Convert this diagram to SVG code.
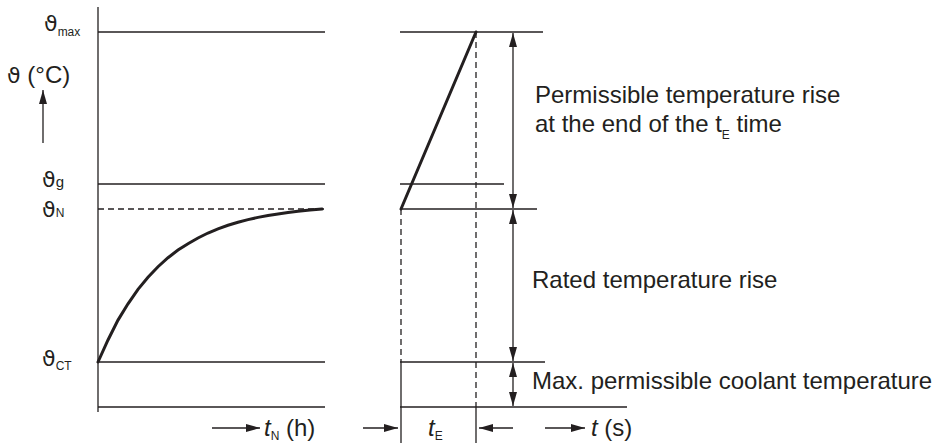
<svg xmlns="http://www.w3.org/2000/svg" width="933" height="443" viewBox="0 0 933 443">
<style>
.ln{stroke:#231f20;stroke-width:1.3;fill:none}
.ds{stroke:#231f20;stroke-width:1.3;fill:none;stroke-dasharray:6 4}
.th{stroke:#231f20;stroke-width:3;fill:none;stroke-linecap:round}
.ar{stroke:#231f20;stroke-width:1.3;fill:none;marker-end:url(#ah)}
.da{stroke:#231f20;stroke-width:1.3;fill:none;marker-start:url(#ahs);marker-end:url(#ah)}
text{font-family:"Liberation Sans","DejaVu Sans",sans-serif;fill:#231f20}
.lb{font-size:24px}
.sym{font-family:"DejaVu Sans","Liberation Sans",sans-serif;font-size:22px}
.sub{font-size:12px}
.it{font-style:italic}
</style>
<defs>
<marker id="ah" markerUnits="userSpaceOnUse" markerWidth="16" markerHeight="10" refX="14" refY="4" orient="auto">
<path d="M0,0 L14,4 L0,8 Z" fill="#231f20"/>
</marker>
<marker id="ahs" markerUnits="userSpaceOnUse" markerWidth="16" markerHeight="10" refX="0" refY="4" orient="auto">
<path d="M14,0 L0,4 L14,8 Z" fill="#231f20"/>
</marker>
</defs>

<g id="left-panel">
<line class="ln" x1="98" y1="7" x2="98" y2="412"/>
<line class="ln" x1="98" y1="32" x2="325" y2="32"/>
<line class="ln" x1="98" y1="184" x2="325" y2="184"/>
<line class="ds" x1="98" y1="209" x2="325" y2="209"/>
<line class="ln" x1="98" y1="362" x2="325" y2="362"/>
<line class="ln" x1="98" y1="407" x2="325" y2="407"/>
<polyline class="th" points="98,362 108,340 118,320.1 128,303.8 138,289.3 148,277.3 158,266.7 168,257.7 178,250.1 188,243.7 198,238 208,233 218,228.9 228,225.3 238,222.3 248,219.6 258,217.4 268,215.5 278,213.9 288,212.5 298,211.3 310,210.1 322,209.1"/>
</g>

<g id="right-panel">
<line class="ln" x1="400" y1="32" x2="543" y2="32"/>
<line class="ln" x1="400" y1="184" x2="504" y2="184"/>
<line class="ln" x1="400" y1="209" x2="537" y2="209"/>
<line class="ln" x1="400" y1="362" x2="545" y2="362"/>
<line class="ln" x1="400" y1="407" x2="627" y2="407"/>
<line class="ds" x1="476" y1="32" x2="476" y2="407"/>
<line class="ds" x1="401" y1="209" x2="401" y2="362"/>
<line class="ln" x1="401" y1="362" x2="401" y2="443"/>
<line class="ln" x1="476" y1="407" x2="476" y2="443"/>
<line class="th" x1="401" y1="209" x2="476" y2="32"/>
</g>

<g id="connectors">
<line class="ar" x1="43" y1="143" x2="43" y2="90"/>
<line class="da" x1="513" y1="33" x2="513" y2="208"/>
<line class="da" x1="513" y1="210" x2="513" y2="361"/>
<line class="da" x1="513" y1="363" x2="513" y2="406"/>
<line class="ar" x1="212" y1="428" x2="260" y2="428"/>
<line class="ar" x1="363" y1="428" x2="398" y2="428"/>
<line class="ar" x1="513" y1="428" x2="479" y2="428"/>
<line class="ar" x1="545" y1="428" x2="585" y2="428"/>
</g>

<g id="axis-labels">
<text x="7" y="83" class="lb"><tspan class="sym">ϑ</tspan> (°C)</text>
<text x="44" y="31"><tspan class="sym">ϑ</tspan><tspan class="sub" dy="5">max</tspan></text>
<text x="42" y="187"><tspan class="sym">ϑ</tspan><tspan style="font-size:15px">g</tspan></text>
<text x="42" y="217"><tspan class="sym">ϑ</tspan><tspan class="sub">N</tspan></text>
<text x="42" y="366"><tspan class="sym">ϑ</tspan><tspan class="sub" dy="4">CT</tspan></text>
<text x="264" y="436" class="lb"><tspan class="it">t</tspan><tspan class="sub" dy="4">N</tspan><tspan dy="-4"> (h)</tspan></text>
<text x="428" y="436" class="lb"><tspan class="it">t</tspan><tspan class="sub" dy="4">E</tspan></text>
<text x="591" y="436" class="lb"><tspan class="it">t</tspan> (s)</text>
</g>

<g id="range-labels">
<text x="535" y="103" class="lb">Permissible temperature rise</text>
<text x="535" y="132" class="lb">at the end of the t<tspan class="sub" dy="7">E</tspan><tspan dy="-7"> time</tspan></text>
<text x="532" y="288" class="lb">Rated temperature rise</text>
<text x="532" y="389" class="lb">Max. permissible coolant temperature</text>
</g>
</svg>
